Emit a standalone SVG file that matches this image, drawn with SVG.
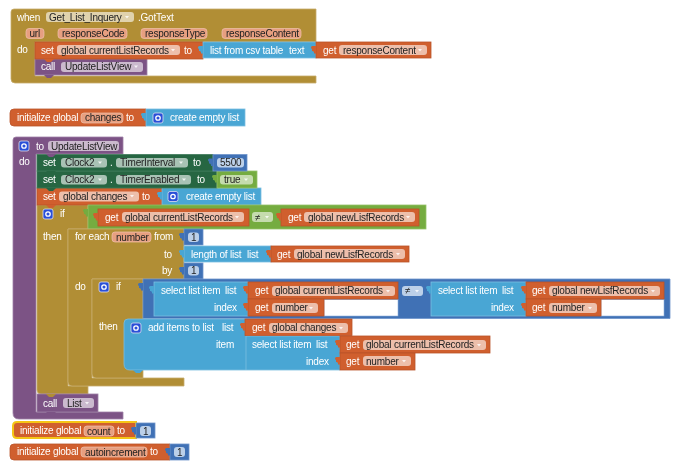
<svg xmlns="http://www.w3.org/2000/svg" width="690" height="468" viewBox="0 0 690 468">
<style>
text{font-family:"Liberation Sans",Arial,sans-serif;font-size:10px;letter-spacing:-.22px}
.w{fill:#fff}.k{fill:#222}
.gd{fill:#B18E35;stroke:#C7AC6C;stroke-width:.8}
.or{fill:#D05F2D;stroke:#B9532A;stroke-width:.8}
.bl{fill:#49A6D4;stroke:#7CBFE0;stroke-width:.8}
.db{fill:#3F71B5;stroke:#6F95CB;stroke-width:.8}
.pu{fill:#7C5385;stroke:#9F82A6;stroke-width:.8}
.gn{fill:#266643;stroke:#3F7A5A;stroke-width:.8}
.lg{fill:#74AC3F;stroke:#97C26C;stroke-width:.8}
.po{fill:#EDBFAB}.pp{fill:#E79F80;stroke:#EFC3AF;stroke-width:.7}.pg{fill:#E0D2AD}.pv{fill:#CBBACE}.pe{fill:#A8C2B4}.pb{fill:#BCD0E9}.pl{fill:#C5DCAE}
.g{fill:#2A50D8;stroke:#DDE;stroke-width:.8}
</style>
<defs>
<filter id="soft" x="0" y="0" width="100%" height="100%"><feGaussianBlur stdDeviation=".3"/></filter>
<path id="tab" d="M0,0h-3.5q-1.5,0-1.5,1.5t1.5,1.5h-.5v2h.5q1.5,0,1.5,1.5v1H0z" stroke="none"/>
<path id="dd" d="M0,0h4l-2,2.5z" fill="#fff" fill-opacity=".8"/>
<path id="bump" d="M0,0l3,3h4l3,-3z" stroke="none"/>
<g id="gear"><rect class="g" x="0" y="0" width="10" height="10" rx="2"/><circle cx="5" cy="5" r="2.2" fill="none" stroke="#fff" stroke-width="1.3"/></g>
</defs>
<g filter="url(#soft)">
<rect x="0" y="0" width="690" height="468" fill="#fff"/>

<g id="when-got-text">
<path class="gd" d="M11,12q0-3,3-3H316V42H35V76H316V83H15q-4,0-4-4z"/>
<text class="w" x="17" y="20.800">when</text>
<rect class="pg" x="46" y="12" width="88" height="10" rx="3"/><text class="k" x="49" y="20.800">Get_List_Inquery</text><use href="#dd" x="125" y="16"/>
<text class="w" x="138" y="20.800">.GotText</text>
<rect class="pp" x="26" y="28.500" width="18" height="10" rx="3"/><text class="k" x="29.500" y="37">url</text>
<rect class="pp" x="58" y="28.500" width="69" height="10" rx="3"/><text class="k" x="62" y="37">responseCode</text>
<rect class="pp" x="141" y="28.500" width="66" height="10" rx="3"/><text class="k" x="145" y="37">responseType</text>
<rect class="pp" x="222" y="28.500" width="79" height="10" rx="3"/><text class="k" x="226" y="37">responseContent</text>
<text class="w" x="17" y="53">do</text>
</g>
<g id="call-update">
<rect class="pu" x="35" y="59" width="112" height="16"/><use href="#bump" x="44" y="75" fill="#7C5385"/>
<text class="w" x="41" y="70">call</text>
<rect class="pv" x="61" y="62" width="82" height="10" rx="3"/><text class="k" x="65" y="70.300">UpdateListView</text><use href="#dd" x="134" y="65.500"/>
</g>
<g id="set-current">
<rect class="or" x="35" y="42" width="168" height="17"/><use href="#bump" x="44" y="59" fill="#D05F2D"/>
<text class="w" x="41" y="53.800">set</text>
<rect class="po" x="57" y="45" width="123" height="10" rx="3"/><text class="k" x="61" y="53.800">global currentListRecords</text><use href="#dd" x="171" y="49"/>
<text class="w" x="184" y="53.800">to</text>
<rect class="bl" x="203" y="42" width="113" height="16"/><use href="#tab" x="203" y="46" fill="#49A6D4"/>
<text class="w" x="210" y="53.800">list from csv table</text><text class="w" x="289" y="53.800">text</text>
<rect class="or" x="316" y="42" width="115" height="16"/><use href="#tab" x="316" y="46" fill="#D05F2D"/>
<text class="w" x="323" y="53.800">get</text>
<rect class="po" x="339" y="45" width="88" height="10" rx="3"/><text class="k" x="343" y="53.800">responseContent</text><use href="#dd" x="418" y="49"/>
</g>

<g id="init-changes">
<path class="or" d="M14,109H146V126H14q-4,0-4-4V113q0-4,4-4z"/>
<text class="w" x="17" y="121.300">initialize global</text>
<rect class="pp" x="81" y="113" width="42" height="10" rx="3"/><text class="k" x="85" y="121.300">changes</text>
<text class="w" x="126" y="121.300">to</text>
<rect class="bl" x="146" y="109" width="99" height="17"/><use href="#tab" x="146" y="113" fill="#49A6D4"/>
<use href="#gear" x="153" y="113"/>
<text class="w" x="170" y="121.300">create empty list</text>
</g>

<g id="procedure">
<path class="pu" d="M13,140q0-3,3-3H123V154H36V412H123V419H19q-6,0-6-6z"/>
<use href="#gear" x="19" y="141"/>
<text class="w" x="36" y="149.800">to</text>
<rect class="pv" x="48" y="141" width="71" height="10" rx="3"/><text class="k" x="51" y="149.800">UpdateListView</text>
<text class="w" x="19" y="165.300">do</text>
</g>

<g id="if-outer">
<path class="gd" d="M37,205H88V229H68V386H88V394H41q-4,0-4-4z"/>
<use href="#gear" x="43" y="209"/>
<text class="w" x="60" y="217.300">if</text>
<text class="w" x="43" y="239.800">then</text>
</g>
<g id="set-changes">
<rect class="or" x="37" y="188" width="125" height="17"/><use href="#bump" x="46" y="205" fill="#D05F2D"/>
<text class="w" x="43" y="199.800">set</text>
<rect class="po" x="59" y="191.500" width="80" height="10" rx="3"/><text class="k" x="63" y="199.800">global changes</text><use href="#dd" x="130" y="195"/>
<text class="w" x="142" y="199.800">to</text>
<rect class="bl" x="162" y="188" width="99" height="17"/><use href="#tab" x="162" y="192" fill="#49A6D4"/>
<use href="#gear" x="168" y="191.500"/>
<text class="w" x="186" y="199.800">create empty list</text>
</g>
<g id="set-enabled">
<rect class="gn" x="37" y="171" width="180" height="17"/><use href="#bump" x="46" y="188" fill="#266643"/>
<text class="w" x="43" y="182.800">set</text>
<rect class="pe" x="61" y="175" width="46" height="9.500" rx="3"/><text class="k" x="65" y="182.800">Clock2</text><use href="#dd" x="98" y="178.500"/>
<text class="w" x="110" y="182.800">.</text>
<rect class="pe" x="116" y="175" width="75" height="9.500" rx="3"/><text class="k" x="120" y="182.800">TimerEnabled</text><use href="#dd" x="182" y="178.500"/>
<text class="w" x="197" y="182.800">to</text>
<rect class="lg" x="217" y="171" width="40" height="17"/><use href="#tab" x="217" y="175" fill="#74AC3F"/>
<rect class="pl" x="220" y="175" width="33" height="9.500" rx="3"/><text class="k" x="224" y="182.800">true</text><use href="#dd" x="244" y="178.500"/>
</g>
<g id="set-interval">
<rect class="gn" x="37" y="154.500" width="176" height="16.500"/><use href="#bump" x="46" y="171" fill="#266643"/>
<use href="#bump" x="46" y="154" fill="#7C5385"/>
<text class="w" x="43" y="165.800">set</text>
<rect class="pe" x="61" y="158" width="46" height="9.500" rx="3"/><text class="k" x="65" y="165.800">Clock2</text><use href="#dd" x="98" y="161.500"/>
<text class="w" x="110" y="165.800">.</text>
<rect class="pe" x="116" y="158" width="72" height="9.500" rx="3"/><text class="k" x="120" y="165.800">TimerInterval</text><use href="#dd" x="179" y="161.500"/>
<text class="w" x="193" y="165.800">to</text>
<rect class="db" x="213" y="154.500" width="34" height="16.500"/><use href="#tab" x="213" y="158.500" fill="#3F71B5"/>
<rect class="pb" x="217" y="158" width="27" height="9.500" rx="3"/><text class="k" x="220" y="165.800">5500</text>
</g>
<g id="compare-records">
<rect class="lg" x="88" y="205" width="338" height="24"/><use href="#tab" x="88" y="209" fill="#74AC3F"/>
<rect class="or" x="98" y="209" width="151" height="17"/><use href="#tab" x="98" y="213" fill="#D05F2D"/>
<text class="w" x="105" y="220.800">get</text>
<rect class="po" x="122" y="212" width="122" height="10" rx="3"/><text class="k" x="125" y="220.800">global currentListRecords</text><use href="#dd" x="235" y="216"/>
<rect class="pl" x="252" y="212" width="21" height="10" rx="3"/><text class="k" x="255" y="220.800">≠</text><use href="#dd" x="265" y="216"/>
<rect class="or" x="281" y="209" width="138" height="17"/><use href="#tab" x="281" y="213" fill="#D05F2D"/>
<text class="w" x="288" y="220.800">get</text>
<rect class="po" x="304" y="212" width="111" height="10" rx="3"/><text class="k" x="308" y="220.800">global newLisfRecords</text><use href="#dd" x="406" y="216"/>
</g>

<g id="for-each">
<path class="gd" d="M68,229H184V279H92V378H184V386H72q-4,0-4-4z"/>
<text class="w" x="75" y="240.300">for each</text>
<rect class="pp" x="112" y="232" width="39" height="10" rx="3"/><text class="k" x="116" y="240.500">number</text>
<text class="w" x="154" y="240.300">from</text>
<rect class="db" x="184" y="229" width="19" height="16"/><use href="#tab" x="184" y="233" fill="#3F71B5"/>
<rect class="pb" x="188" y="232.500" width="11" height="9.500" rx="3"/><text class="k" x="191" y="240.500">1</text>
<text class="w" x="164" y="257.800">to</text>
<rect class="bl" x="184" y="246" width="87" height="16"/><use href="#tab" x="184" y="250" fill="#49A6D4"/>
<text class="w" x="191" y="257.800">length of list</text><text class="w" x="247" y="257.800">list</text>
<rect class="or" x="271" y="246" width="138" height="16"/><use href="#tab" x="271" y="250" fill="#D05F2D"/>
<text class="w" x="277" y="257.800">get</text>
<rect class="po" x="294" y="249" width="111" height="10" rx="3"/><text class="k" x="297" y="257.800">global newLisfRecords</text><use href="#dd" x="396" y="253"/>
<text class="w" x="162" y="273.800">by</text>
<rect class="db" x="184" y="263" width="19" height="16"/><use href="#tab" x="184" y="267" fill="#3F71B5"/>
<rect class="pb" x="188" y="266" width="11" height="9.500" rx="3"/><text class="k" x="191" y="274">1</text>
<text class="w" x="75" y="290.300">do</text>
</g>

<g id="if-inner">
<path class="gd" d="M92,279H143V378H96q-4,0-4-4z"/>
<use href="#gear" x="99" y="282"/>
<text class="w" x="116" y="290.300">if</text>
<text class="w" x="99" y="330.300">then</text>
</g>
<g id="compare-items">
<path class="db" d="M143,279H670V318.500H143z"/><use href="#tab" x="143" y="283" fill="#3F71B5"/>
<rect x="324" y="299.500" width="74" height="16.500" fill="#fff" stroke="#8FAEDA" stroke-width=".6"/>
<rect x="601" y="299.500" width="63" height="16.500" fill="#fff" stroke="#8FAEDA" stroke-width=".6"/>
<rect class="bl" x="154" y="282" width="94" height="34"/><use href="#tab" x="154" y="286" fill="#49A6D4"/>
<text class="w" x="161" y="294.300">select list item</text><text class="w" x="225" y="294.300">list</text>
<text class="w" x="214" y="311.300">index</text>
<rect class="or" x="248" y="282" width="150" height="17"/><use href="#tab" x="248" y="286" fill="#D05F2D"/>
<text class="w" x="255" y="294.300">get</text>
<rect class="po" x="272" y="286" width="123" height="10" rx="3"/><text class="k" x="275" y="294.300">global currentListRecords</text><use href="#dd" x="386" y="290"/>
<rect class="or" x="248" y="299" width="76" height="17"/><use href="#tab" x="248" y="303" fill="#D05F2D"/>
<text class="w" x="255" y="311.300">get</text>
<rect class="po" x="272" y="303" width="46" height="10" rx="3"/><text class="k" x="275" y="311.300">number</text><use href="#dd" x="309" y="307"/>
<rect class="pb" x="402" y="286" width="21" height="10" rx="3"/><text class="k" x="405" y="294.300">≠</text><use href="#dd" x="415" y="290"/>
<rect class="bl" x="431" y="282" width="95" height="34"/><use href="#tab" x="431" y="286" fill="#49A6D4"/>
<text class="w" x="438" y="294.300">select list item</text><text class="w" x="502" y="294.300">list</text>
<text class="w" x="491" y="311.300">index</text>
<rect class="or" x="526" y="282" width="138" height="17"/><use href="#tab" x="526" y="286" fill="#D05F2D"/>
<text class="w" x="532" y="294.300">get</text>
<rect class="po" x="549" y="286" width="111" height="10" rx="3"/><text class="k" x="552" y="294.300">global newLisfRecords</text><use href="#dd" x="651" y="290"/>
<rect class="or" x="526" y="299" width="75" height="17"/><use href="#tab" x="526" y="303" fill="#D05F2D"/>
<text class="w" x="532" y="311.300">get</text>
<rect class="po" x="549" y="303" width="48" height="10" rx="3"/><text class="k" x="552" y="311.300">number</text><use href="#dd" x="588" y="307"/>
</g>

<g id="add-items">
<path class="bl" d="M128,319H246V336H340V370H130q-6,0-6-6V323q0-4,4-4z"/>
<use href="#bump" x="133" y="370" fill="#49A6D4"/>
<use href="#gear" x="131" y="323"/>
<text class="w" x="148" y="331.300">add items to list</text><text class="w" x="222" y="331.300">list</text>
<text class="w" x="216" y="348.300">item</text>
<rect class="or" x="245" y="319" width="107" height="16.500"/><use href="#tab" x="245" y="323" fill="#D05F2D"/>
<text class="w" x="252" y="331.300">get</text>
<rect class="po" x="269" y="323" width="79" height="10" rx="3"/><text class="k" x="272" y="331.300">global changes</text><use href="#dd" x="339" y="327"/>
<path d="M246,336V370" stroke="#7CBFE0" stroke-width=".8" fill="none"/>
<text class="w" x="252" y="348.300">select list item</text><text class="w" x="316" y="348.300">list</text>
<text class="w" x="306" y="364.800">index</text>
<rect class="or" x="340" y="336" width="150" height="17"/><use href="#tab" x="340" y="340" fill="#D05F2D"/>
<text class="w" x="346" y="348.300">get</text>
<rect class="po" x="363" y="340" width="123" height="10" rx="3"/><text class="k" x="366" y="348.300">global currentListRecords</text><use href="#dd" x="477" y="344"/>
<rect class="or" x="340" y="353" width="75" height="17"/><use href="#tab" x="340" y="357" fill="#D05F2D"/>
<text class="w" x="346" y="364.800">get</text>
<rect class="po" x="363" y="356" width="48" height="10" rx="3"/><text class="k" x="366" y="364.800">number</text><use href="#dd" x="402" y="360"/>
</g>

<g id="call-list">
<rect class="pu" x="37" y="394" width="61" height="18"/><use href="#bump" x="46" y="412" fill="#7C5385"/>
<use href="#bump" x="46" y="394" fill="#B18E35"/>
<text class="w" x="43" y="406.800">call</text>
<rect class="pv" x="63" y="398" width="31" height="10" rx="3"/><text class="k" x="67" y="406.800">List</text><use href="#dd" x="85" y="402"/>
</g>

<g id="init-count">
<path d="M17,422H136V438H17q-4,0-4-4V426q0-4,4-4z" fill="#D05F2D" stroke="#F5C518" stroke-width="2"/>
<text class="w" x="20" y="434.300">initialize global</text>
<rect class="pp" x="84" y="426" width="30" height="10" rx="3"/><text class="k" x="87" y="434.500">count</text>
<text class="w" x="117" y="434.300">to</text>
<rect class="db" x="136" y="423" width="19" height="15"/><use href="#tab" x="136" y="427" fill="#3F71B5"/>
<rect class="pb" x="140" y="426" width="11" height="10" rx="3"/><text class="k" x="143" y="434.500">1</text>
</g>
<g id="init-autoincrement">
<path class="or" d="M14,444H170V460H14q-4,0-4-4V448q0-4,4-4z"/>
<text class="w" x="17" y="455.300">initialize global</text>
<rect class="pp" x="81" y="447" width="66" height="10" rx="3"/><text class="k" x="85" y="455.500">autoincrement</text>
<text class="w" x="150" y="455.300">to</text>
<rect class="db" x="170" y="444" width="19" height="16"/><use href="#tab" x="170" y="448" fill="#3F71B5"/>
<rect class="pb" x="174" y="447" width="11" height="10" rx="3"/><text class="k" x="177" y="455.500">1</text>
</g>
</g>
</svg>
